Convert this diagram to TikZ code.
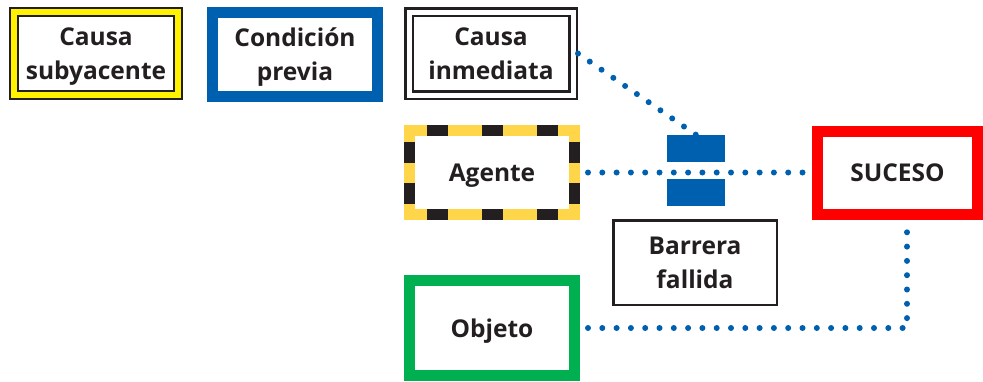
\documentclass[tikz,border=0pt]{standalone}
\usepackage{fontspec}
\setmainfont{Open Sans}
\definecolor{ink}{HTML}{231F20}
\definecolor{azul}{HTML}{0060B0}
\definecolor{rojo}{HTML}{FF0000}
\definecolor{verde}{HTML}{00B050}
\definecolor{ambar}{HTML}{FFD54A}
\tikzset{
  caja/.style={rectangle, inner sep=0pt, align=center, text=ink,
    font=\bfseries\fontsize{24.5}{34}\selectfont, text depth=0pt},
  dos/.style={text depth=-5pt},
  subyacente/.style={caja, dos, draw=ink, double=yellow, line width=2pt,
    double distance=6pt, outer sep=5pt, minimum width=164pt, minimum height=83pt},
  previa/.style={caja, dos, draw=azul, line width=11pt, outer sep=5.5pt,
    minimum width=165pt, minimum height=84pt},
  inmediata/.style={caja, dos, draw=ink, double=white, line width=2.5pt,
    double distance=5pt, outer sep=5pt, minimum width=164pt, minimum height=83pt},
  agente/.style={caja, draw=ambar, line width=11pt, outer sep=0pt,
    minimum width=165pt, minimum height=84pt},
  suceso/.style={caja, draw=rojo, line width=11pt, outer sep=5.5pt,
    minimum width=160pt, minimum height=83pt},
  fallida/.style={caja, dos, draw=ink, line width=2.5pt, outer sep=1.25pt,
    minimum width=163.5pt, minimum height=84.5pt},
  objeto/.style={caja, draw=verde, line width=11pt, outer sep=5.5pt,
    minimum width=165pt, minimum height=95pt},
  barra/.style={fill=azul, inner sep=0pt, minimum width=58pt, minimum height=27pt},
  franja/.style={draw=ink, line width=11pt, dash pattern=on 21pt off 34pt},
  punteado/.style={draw=azul, line width=6pt, line cap=round,
    dash pattern=on 0pt off 14.3pt}
}

\begin{document}
\begin{tikzpicture}[x=1pt, y=-1pt]
  \useasboundingbox (0,0) rectangle (983,381);
  \node[subyacente] (cs) at (96,53.5) {Causa\\subyacente};
  \node[previa] (cp) at (295,54.5) {Condición\\previa};
  \node[inmediata] (ci) at (491,53.5) {Causa\\inmediata};
  \node[agente] (ag) at (492,172.5) {Agente};
  \draw[franja, dash phase=37.5pt] (ag.north west) -- (ag.north east);
  \draw[franja, dash phase=37.5pt] (ag.south west) -- (ag.south east);
  \draw[franja, dash pattern=on 21pt off 20pt, dash phase=30pt] (ag.north west) -- (ag.south west);
  \draw[franja, dash pattern=on 21pt off 20pt, dash phase=30pt] (ag.north east) -- (ag.south east);
  \node[suceso] (su) at (897.5,172.5) {SUCESO};
  \node[fallida] (bf) at (695,262.5) {Barrera\\fallida};
  \node[objeto] (ob) at (492,328) {Objeto};
  \node[barra] (barup) at (696,148.5) {};
  \node[barra] (bardown) at (696,192.5) {};
  \draw[punteado] (ci.east) -- (barup.north);
  \draw[punteado, shorten <=8pt] ([xshift=5.5pt]ag.east) -- (su.west);
  \draw[punteado, shorten <=8pt] (ob.east) -| ([xshift=9.5pt]su.south);
\end{tikzpicture}
\end{document}
